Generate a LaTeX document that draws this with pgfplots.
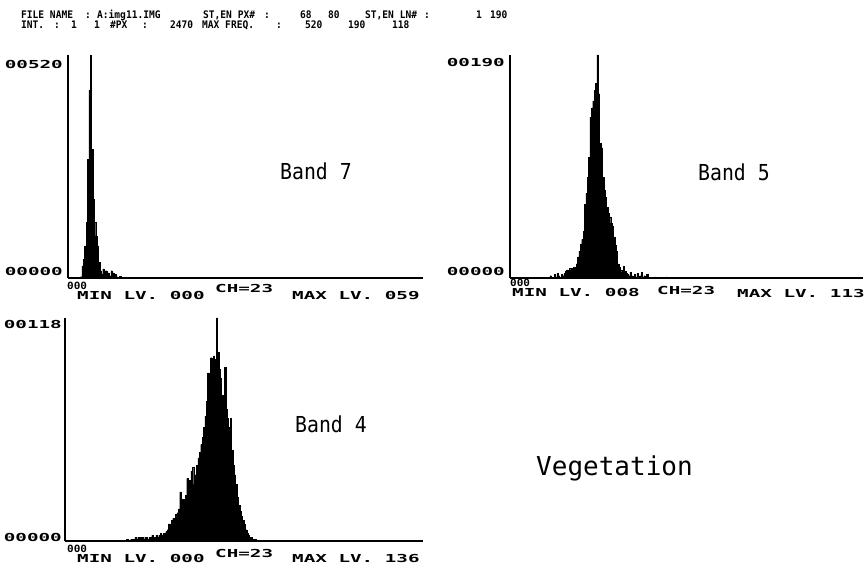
\documentclass[border=0pt]{standalone}
\usepackage{fontspec}
\usepackage{graphicx}
\usepackage{pgfplots}
\usepackage{pgfplotstable}
\pgfplotsset{compat=1.18}
\setmainfont{DejaVu Sans Mono}
\newcommand{\hdr}[1]{\scalebox{0.92}[1]{\fontsize{10.4}{10.4}\selectfont\bfseries #1}}
\newcommand{\wide}[1]{\scalebox{1.75}[1]{\fontsize{11}{11}\selectfont\bfseries #1}}
\newcommand{\orig}[1]{\scalebox{1.1}[1]{\fontsize{10}{10}\selectfont\bfseries #1}}
\newcommand{\band}[1]{\scalebox{0.9}[1]{\fontsize{22}{22}\selectfont #1}}

\pgfplotstableread{
lv c
0 0
9 3
10 28
11 44
12 75
13 130
14 276
15 438
16 520
17 300
18 183
19 130
20 98
21 75
22 37
23 17
24 9
25 21
26 12
27 17
28 9
29 12
30 5
31 17
32 12
33 5
34 9
35 3
36 2
37 4
38 1
39 2
40 1
41 0
42 2
43 0
59 1
60 0
}\bandseven

\pgfplotstableread{
lv c
0 0
29 2
30 0
32 3
33 1
34 4
35 2
36 0
37 3
38 2
39 4
40 6
41 7
42 6
43 8
44 7
45 8
46 9
47 8
48 12
49 18
50 23
51 29
52 33
53 40
54 63
55 72
56 86
57 103
58 137
59 145
60 151
61 160
62 166
63 190
64 157
65 115
66 111
67 86
68 75
69 69
70 60
71 55
72 52
73 47
74 44
75 35
76 28
77 23
78 12
79 9
80 7
81 5
82 10
83 6
84 4
85 3
86 2
87 5
88 2
89 1
90 3
91 1
92 4
93 1
94 2
95 5
96 1
97 2
98 0
99 3
100 0
105 1
106 0
113 1
114 0
}\bandfive

\pgfplotstableread{
lv c
0 0
44 1
45 0
47 1
48 1
50 2
51 1
52 2
53 1
54 2
55 2
56 1
57 2
58 2
59 1
60 2
61 2
62 3
63 2
64 2
65 3
66 2
67 3
68 4
69 3
70 4
71 4
72 5
73 6
74 9
75 8
76 11
77 12
78 10
79 14
80 15
81 17
82 26
83 18
84 22
85 20
86 24
87 33
88 23
89 32
90 37
91 39
92 30
93 35
94 40
95 44
96 47
97 51
98 55
99 60
100 66
101 74
102 89
103 80
104 97
105 86
106 98
107 96
108 118
109 100
110 91
111 86
112 77
113 74
114 92
115 70
116 65
117 60
118 65
119 48
120 40
121 35
122 30
123 23
124 19
125 16
126 13
127 11
128 9
129 6
130 4
131 3
132 2
133 2
134 1
135 1
136 1
137 0
}\bandfour

\pgfplotsset{hist/.style={scale only axis, axis x line=bottom, axis y line=left,
  axis line style={-, line width=1.8pt}, xmin=0, xmax=256, ymin=0,
  xtick=\empty, ytick=\empty, anchor=south west, height=223pt}}

\begin{document}
\begin{tikzpicture}[x=1pt,y=1pt]
\path[use as bounding box] (0,0) rectangle (865,584);

% header
\begin{scope}[every node/.style={anchor=base west, inner sep=0pt}]
\node at (21,565) {\hdr{FILE NAME}};
\node at (85,565) {\hdr{:}};
\node at (97,565) {\hdr{A:img11.IMG}};
\node at (203,565) {\hdr{ST,EN PX\#}};
\node at (264,565) {\hdr{:}};
\node at (300,565) {\hdr{68}};
\node at (328,565) {\hdr{80}};
\node at (365,565) {\hdr{ST,EN LN\#}};
\node at (424,565) {\hdr{:}};
\node at (476,565) {\hdr{1}};
\node at (490,565) {\hdr{190}};
\node at (21,555.5) {\hdr{INT.}};
\node at (54,555.5) {\hdr{:}};
\node at (71,555.5) {\hdr{1}};
\node at (94,555.5) {\hdr{1}};
\node at (110,555.5) {\hdr{\#PX}};
\node at (142,555.5) {\hdr{:}};
\node at (170,555.5) {\hdr{2470}};
\node at (202,555.5) {\hdr{MAX FREQ.}};
\node at (276,555.5) {\hdr{:}};
\node at (305,555.5) {\hdr{520}};
\node at (348,555.5) {\hdr{190}};
\node at (392,555.5) {\hdr{118}};
\end{scope}

% Panel 1: Band 7
\begin{axis}[hist, at={(68pt,306pt)}, width=355pt, ymax=520]
\addplot[const plot, fill=black, draw=black, line width=0.3pt] table[x=lv,y=c] {\bandseven} \closedcycle;
\end{axis}
% Panel 2: Band 5
\begin{axis}[hist, at={(510pt,306pt)}, width=353pt, ymax=190]
\addplot[const plot, fill=black, draw=black, line width=0.3pt] table[x=lv,y=c] {\bandfive} \closedcycle;
\end{axis}
% Panel 3: Band 4
\begin{axis}[hist, at={(65pt,43pt)}, width=358pt, ymax=118]
\addplot[const plot, fill=black, draw=black, line width=0.3pt] table[x=lv,y=c] {\bandfour} \closedcycle;
\end{axis}

\begin{scope}[every node/.style={inner sep=0pt}]
% panel 1 labels
\node[anchor=east] at (63,519.5) {\wide{00520}};
\node[anchor=east] at (63,312.5) {\wide{00000}};
\node[anchor=west] at (67,298) {\orig{000}};
\node[anchor=west] at (77,288.5) {\wide{MIN LV. 000}};
\node[anchor=west] at (215,296) {\wide{CH=23}};
\node[anchor=west] at (292,288.5) {\wide{MAX LV. 059}};
\node[anchor=west] at (280,412.5) {\band{Band 7}};
% panel 2 labels
\node[anchor=east] at (505,521.5) {\wide{00190}};
\node[anchor=east] at (505,313) {\wide{00000}};
\node[anchor=west] at (510,301) {\orig{000}};
\node[anchor=west] at (512,292) {\wide{MIN LV. 008}};
\node[anchor=west] at (657,294) {\wide{CH=23}};
\node[anchor=west] at (737,291) {\wide{MAX LV. 113}};
\node[anchor=west] at (698,412) {\band{Band 5}};
% panel 3 labels
\node[anchor=east] at (62,259.5) {\wide{00118}};
\node[anchor=east] at (62,47) {\wide{00000}};
\node[anchor=west] at (67,35) {\orig{000}};
\node[anchor=west] at (77,26) {\wide{MIN LV. 000}};
\node[anchor=west] at (215,31) {\wide{CH=23}};
\node[anchor=west] at (292,25) {\wide{MAX LV. 136}};
\node[anchor=west] at (295,160) {\band{Band 4}};
\node[anchor=base west] at (536,108) {\fontsize{26}{26}\selectfont Vegetation};
\end{scope}
\end{tikzpicture}
\end{document}
